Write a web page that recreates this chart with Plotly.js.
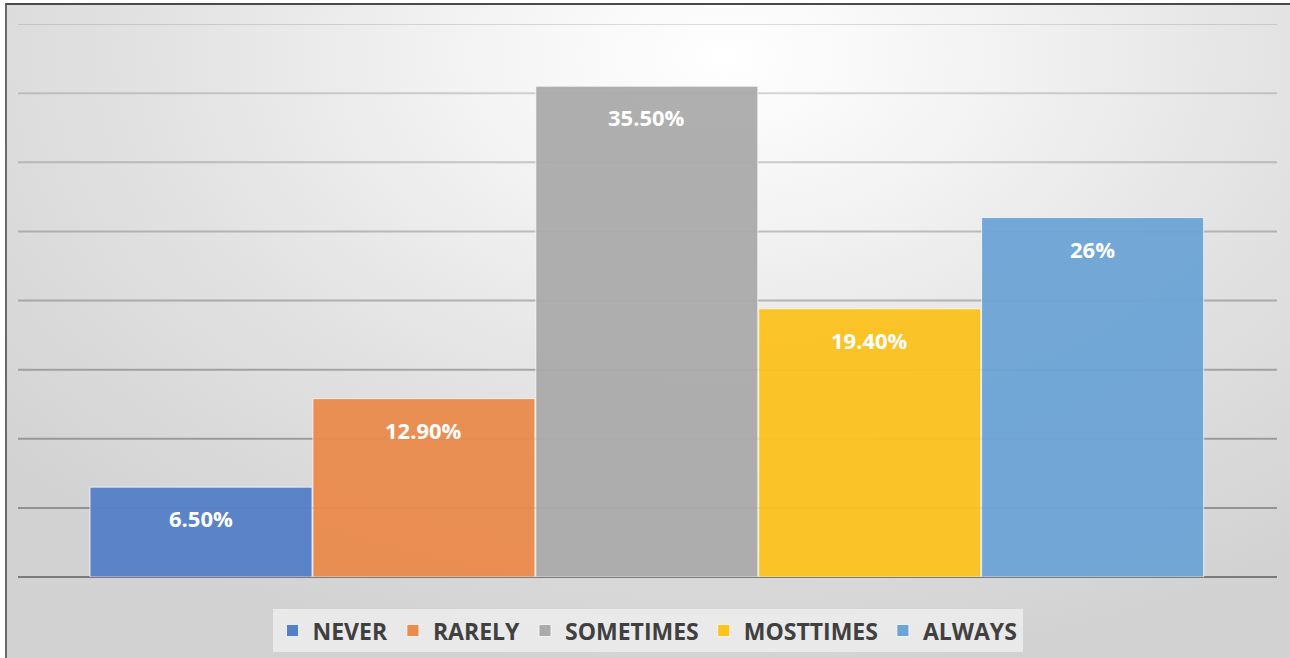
<!DOCTYPE html>
<html>
<head>
<meta charset="utf-8">
<script src="https://cdn.plot.ly/plotly-3.0.1.min.js"></script>
<style>
  html, body { margin: 0; padding: 0; background: #ffffff; }
  #wrap { position: relative; width: 1290px; height: 658px; overflow: hidden; background: #ffffff; }
  #bg { position: absolute; left: 6px; top: 4px; width: 1284px; height: 654px;
        background: radial-gradient(ellipse 75% 95% at 56% 8%, #ffffff 0%, #f4f4f4 25%, #e2e2e2 60%, #d2d2d2 100%); }
  #frame { position: absolute; left: 5px; top: 3px; width: 1290px; height: 660px;
           border-top: 2px solid #4a4a4a; border-left: 2px solid #6a6a6a; pointer-events: none; }
  #chart { position: absolute; left: 0; top: 0; width: 1290px; height: 658px; }
</style>
</head>
<body>
<div id="wrap">
  <div id="bg"></div>
  <div id="chart"></div>
  <div id="frame"></div>
</div>
<script>
const categories = ["NEVER", "RARELY", "SOMETIMES", "MOSTTIMES", "ALWAYS"];
const values = [6.5, 12.9, 35.5, 19.4, 26];
const labels = ["6.50%", "12.90%", "35.50%", "19.40%", "26%"];
const colors = ["#5580C8", "#EB8B4C", "#ABABAB", "#FCC21E", "#6CA4D6"];
const gridValues = [5, 10, 15, 20, 25, 30, 35, 40];

const traces = categories.map((c, i) => ({
  type: "bar",
  name: c,
  x: [c],
  y: [values[i]],
  marker: { color: colors[i], opacity: 0.95, line: { color: "rgba(255,255,255,0.75)", width: 1 } },
  hoverinfo: "skip"
}));

const annotations = categories.map((c, i) => ({
  x: c, y: values[i], xref: "x", yref: "y",
  text: labels[i], showarrow: false,
  yanchor: "middle", yshift: -31,
  font: { family: "Open Sans", size: 22, color: "#ffffff", weight: 700 }
}));

// gridlines drawn below the bars, fading toward the top as in the reference
const shapes = gridValues.map((v, k) => ({
  type: "line", layer: "below",
  xref: "paper", x0: 0, x1: 1, yref: "y", y0: v, y1: v,
  line: { color: "rgba(80,80,80," + (0.5 - k * 0.045).toFixed(3) + ")", width: 2 }
}));

const layout = {
  width: 1290, height: 658,
  margin: { l: 18, r: 13, t: 24, b: 81, autoexpand: false },
  paper_bgcolor: "rgba(0,0,0,0)",
  plot_bgcolor: "rgba(0,0,0,0)",
  barmode: "overlay",
  bargap: 0.004,
  showlegend: true,
  legend: {
    orientation: "h", x: 0.5, xanchor: "center", y: -0.058, yanchor: "top",
    bgcolor: "rgba(240,240,240,0.75)",
    font: { family: "Open Sans", size: 23, color: "#404040", weight: 700 },
    itemwidth: 30,
    traceorder: "normal"
  },
  xaxis: {
    type: "category", categoryorder: "array", categoryarray: categories,
    range: [-0.821, 4.827],
    showticklabels: false, showgrid: false, zeroline: false, showline: false, ticks: ""
  },
  yaxis: {
    range: [0, 40], dtick: 5, showticklabels: false,
    showgrid: false,
    zeroline: true, zerolinecolor: "#7a7a7a", zerolinewidth: 2,
    showline: false, ticks: ""
  },
  shapes: shapes,
  annotations: annotations
};

Plotly.newPlot("chart", traces, layout, { displayModeBar: false, staticPlot: true });
</script>
</body>
</html>
